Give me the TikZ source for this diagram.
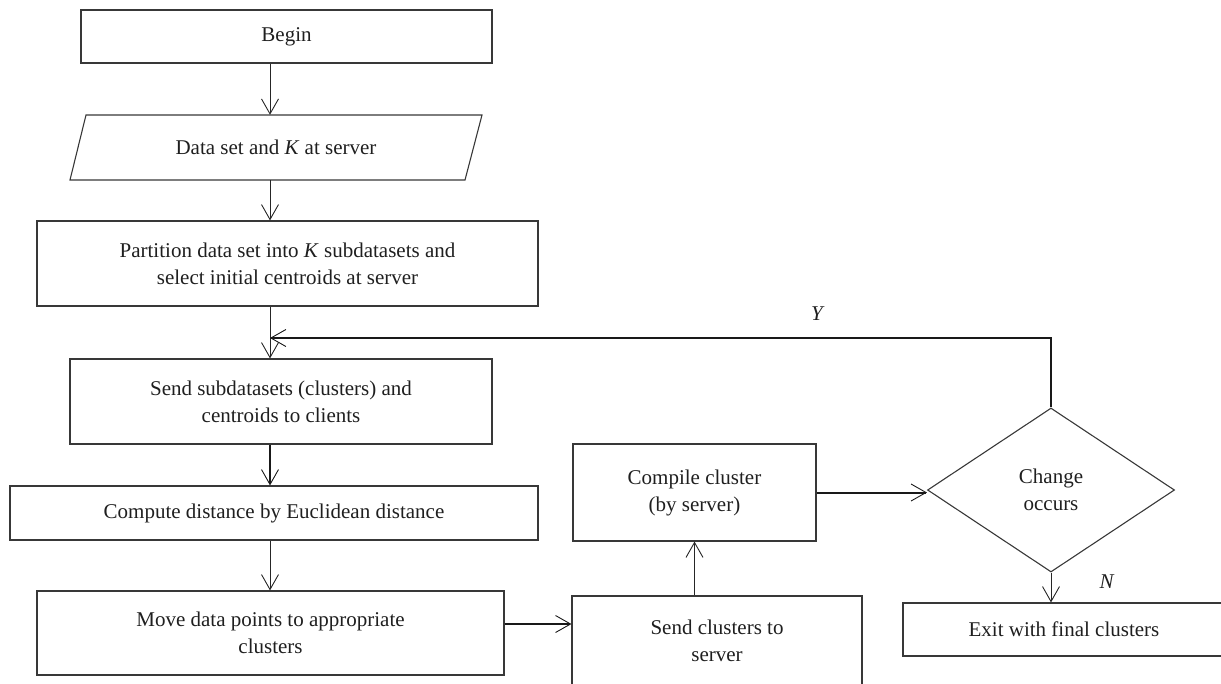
\documentclass[tikz,border=0pt]{standalone}
\usepackage{fontspec}
\setmainfont{Liberation Serif}
\usetikzlibrary{arrows.meta,shapes.geometric}
\begin{document}
\begin{tikzpicture}[x=1pt,y=-1pt,
  every node/.style={font=\fontsize{21}{27}\selectfont, text=black!88},
  procbox/.style={draw=black!78, line width=1.1pt, rectangle, inner sep=0pt, align=center},
  flowthin/.style={draw=black!85, line width=0.9pt, -{Straight Barb[length=15pt,width=17pt,line width=0.9pt]}},
  flowthick/.style={draw=black!90, line width=2pt, -{Straight Barb[length=15pt,width=17pt,line width=0.9pt]}},
]
\useasboundingbox (0,0) rectangle (1221,683);
\clip (0,0) rectangle (1221,683);

% helper coordinates
\coordinate (ax) at (270,0);
\coordinate (loopend) at (270,338);
\coordinate (ry) at (0,624);

% nodes
\node[procbox, minimum width=411pt, minimum height=53pt] (begin) at (286.5,36.5) {Begin};
\node[inner sep=0pt, minimum width=412pt, minimum height=65pt] (data) at (276,147.5) {Data set and \textit{K} at server};
\draw[draw=black!78, line width=1.1pt] (86,115) -- (482,115) -- (465,180) -- (70,180) -- cycle;
\node[procbox, minimum width=501pt, minimum height=85pt] (part) at (287.5,263.5)
  {Partition data set into \textit{K} subdatasets and\\select initial centroids at server};
\node[procbox, minimum width=422pt, minimum height=85pt] (send) at (281,401.5)
  {Send subdatasets (clusters) and\\centroids to clients};
\node[procbox, minimum width=528pt, minimum height=54pt] (comp) at (274,513)
  {Compute distance by Euclidean distance};
\node[procbox, minimum width=467pt, minimum height=84pt] (move) at (270.5,633)
  {Move data points to appropriate\\clusters};
\node[procbox, minimum width=243pt, minimum height=97pt] (compile) at (694.5,492.5)
  {Compile cluster\\(by server)};
\node[procbox, minimum width=290pt, minimum height=90pt] (sendcl) at (717,641)
  {Send clusters to\\server};
\node[procbox, diamond, minimum width=247pt, minimum height=164pt] (chg) at (1051,490)
  {Change\\occurs};
\node[procbox, minimum width=322pt, minimum height=53pt] (exit) at (1064,629.5)
  {Exit with final clusters};
\node (ylab) at (818,314) {\textit{Y}};
\node (nlab) at (1107,582) {\textit{N}};

% connectors
\draw[flowthin] (begin.south -| ax) -- (data.north -| ax);
\draw[flowthin] (data.south -| ax) -- (part.north -| ax);
\draw[flowthin] (part.south -| ax) -- (send.north -| ax);
\draw[flowthick] (chg.north) |- (loopend);
\draw[flowthick] (send.south -| ax) -- (comp.north -| ax);
\draw[flowthin] (comp.south -| ax) -- (move.north -| ax);
\draw[flowthick] (move.east |- ry) -- (sendcl.west |- ry);
\draw[flowthin] (sendcl.north -| compile.south) -- (compile.south);
\draw[flowthick] (compile.east) -- (compile.east -| chg.west);
\draw[flowthin] (chg.south) -- (chg.south |- exit.north);
\end{tikzpicture}
\end{document}
